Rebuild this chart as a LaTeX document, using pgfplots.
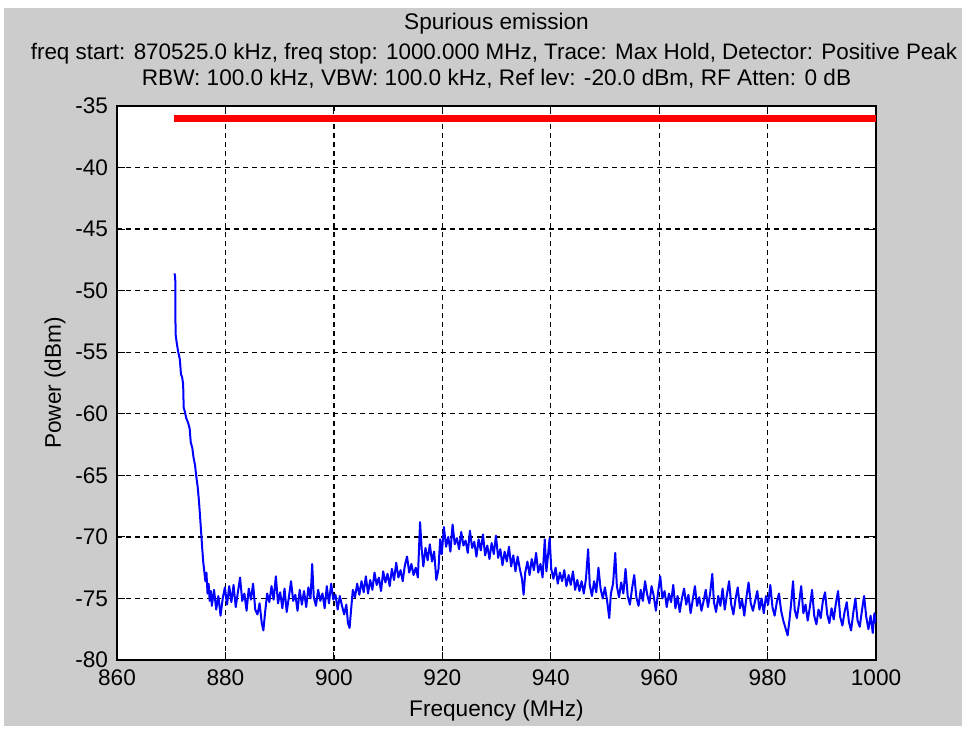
\documentclass[border=0pt]{standalone}
\usepackage{pgfplots}
\pgfplotsset{compat=1.18}
\usepackage{fontspec}
\setmainfont{Liberation Sans}
\usetikzlibrary{backgrounds}
\definecolor{figgray}{gray}{0.8}

\begin{document}
\fontsize{11.3}{13.5}\selectfont
\begin{tikzpicture}
\begin{axis}[
    name=ax,
    at={(0,0)}, anchor=south west,
    scale only axis,
    width=379.5pt, height=277pt,
    xmin=860, xmax=1000,
    ymin=-80, ymax=-35,
    xtick={860,880,...,1000},
    ytick={-80,-75,...,-35},
    tick align=inside,
    major tick length=4pt,
    tick style={black, line width=0.5pt},
    axis line style={black, line width=0.6pt},
    grid=major,
    major grid style={black, line width=0.65pt, dash pattern=on 2.5pt off 2pt},
    axis background/.style={fill=white},
    /pgf/number format/assume math mode=true,
    /pgf/number format/set thousands separator={},
    ticklabel style={font=\fontsize{11.3}{13.5}\selectfont},
    xticklabel style={yshift=-1pt},
    yticklabel style={xshift=-0.5pt},
]
% limit line
\addplot[red, line width=3.5pt, forget plot] coordinates {(870.525,-36) (1000,-36)};
% measured trace (max hold)
\addplot[blue, line width=1pt, line join=round] coordinates {
(870.6,-48.6) (870.7,-48.8) (870.75,-49.2) (870.8,-53.5) (871.0,-54.2) (871.3,-55.0)
(871.6,-55.6) (871.8,-56.8) (872.0,-57.0) (872.2,-57.6) (872.3,-59.5) (872.5,-59.8)
(872.8,-60.4) (873.1,-60.7) (873.4,-61.2) (873.6,-62.3) (873.9,-62.8) (874.1,-63.5)
(874.4,-64.2) (874.6,-65.0) (874.9,-66.0) (875.1,-67.0) (875.3,-68.2) (875.5,-69.5)
(875.7,-70.8) (875.9,-72.0) (876.1,-72.8) (876.3,-73.6) (876.5,-72.9) (876.7,-74.6)
(876.9,-73.8) (877.1,-75.2) (877.3,-74.4)
(877.5,-75.6) (877.9,-74.3) (878.3,-75.9) (878.7,-74.8) (879.1,-76.4) (879.5,-75.0)
(879.9,-74.1) (880.3,-75.5) (880.7,-74.0) (881.1,-75.3) (881.5,-73.9) (881.9,-75.7)
(882.3,-74.5) (882.7,-73.3) (883.1,-75.2) (883.5,-74.6) (883.9,-76.0) (884.3,-74.2)
(884.7,-75.1) (885.1,-73.8) (885.5,-75.9) (885.9,-76.3) (886.3,-75.4) (886.7,-77.0)
(887.0,-77.6) (887.3,-76.2) (887.7,-74.6) (888.1,-75.3) (888.5,-74.0) (888.9,-75.1)
(889.3,-73.2) (889.7,-75.4) (890.1,-74.5) (890.5,-75.8) (890.9,-74.2) (891.3,-76.1)
(891.7,-74.9) (892.1,-73.6) (892.5,-75.2) (892.9,-74.7) (893.3,-76.0) (893.7,-74.3)
(894.1,-75.5) (894.5,-74.4) (894.9,-75.7) (895.3,-74.1) (895.7,-75.0) (896.0,-72.2)
(896.3,-74.9) (896.7,-75.6) (897.1,-74.3) (897.5,-75.2) (897.9,-74.6) (898.3,-75.8)
(898.7,-74.0) (899.1,-75.4) (899.5,-73.8) (899.9,-75.1) (900.3,-74.7) (900.7,-75.9)
(901.1,-74.8) (901.5,-75.6) (901.9,-76.3) (902.3,-75.5) (902.6,-77.0) (902.9,-77.4)
(903.2,-75.8) (903.5,-74.3) (903.9,-74.9) (904.3,-73.8) (904.7,-74.7) (905.1,-73.6)
(905.5,-74.5) (905.9,-73.2) (906.3,-74.6) (906.7,-73.5) (907.1,-74.3) (907.5,-72.9)
(907.9,-73.9) (908.3,-73.3) (908.7,-74.4) (909.1,-72.8) (909.5,-73.7) (909.9,-73.0)
(910.3,-74.0) (910.7,-72.6) (911.1,-73.5) (911.5,-72.1) (911.9,-73.3) (912.3,-72.7)
(912.7,-73.6) (913.1,-72.3) (913.5,-71.6) (913.9,-72.9) (914.3,-72.2) (914.7,-73.1)
(915.1,-72.5) (915.5,-73.3) (915.9,-68.8) (916.2,-71.0) (916.5,-72.4) (916.9,-70.9)
(917.3,-71.9) (917.7,-70.6) (918.1,-72.0) (918.5,-71.2) (918.9,-73.5) (919.3,-72.6)
(919.6,-70.2) (919.9,-71.4) (920.3,-69.2) (920.7,-70.8) (921.1,-70.0) (921.5,-71.2)
(921.9,-69.0) (922.3,-70.6) (922.7,-70.1) (923.1,-71.0) (923.5,-69.6) (923.9,-70.7)
(924.3,-70.3) (924.7,-71.3) (925.1,-69.5) (925.5,-70.9) (925.9,-70.4) (926.3,-71.6)
(926.7,-70.2) (927.1,-71.1) (927.5,-69.8) (927.9,-71.5) (928.3,-70.7) (928.7,-71.8)
(929.1,-70.5) (929.5,-71.4) (929.9,-69.9) (930.3,-71.7) (930.7,-71.0) (931.1,-72.3)
(931.5,-71.2) (931.9,-72.0) (932.3,-70.8) (932.7,-72.4) (933.1,-71.5) (933.5,-72.8)
(933.9,-71.6) (934.3,-72.6) (934.7,-73.4) (935.0,-74.7) (935.3,-72.9) (935.7,-72.0)
(936.1,-73.1) (936.5,-71.8) (936.9,-72.7) (937.3,-71.3) (937.7,-72.9) (938.1,-72.2)
(938.5,-73.3) (938.9,-70.2) (939.2,-72.8) (939.5,-71.5) (939.8,-70.1) (940.1,-72.6)
(940.5,-73.4) (940.9,-72.5) (941.3,-73.8) (941.7,-72.9) (942.1,-73.6) (942.5,-72.7)
(942.9,-74.0) (943.3,-73.1) (943.7,-73.9) (944.1,-72.8) (944.5,-74.3) (944.9,-73.5)
(945.3,-74.4) (945.7,-73.6) (946.1,-74.6) (946.5,-73.4) (946.9,-71.0) (947.2,-73.9)
(947.6,-74.8) (948.0,-73.6) (948.4,-74.5) (948.8,-72.5) (949.2,-74.2) (949.6,-75.0)
(950.0,-74.1) (950.4,-75.2) (950.8,-76.6) (951.1,-74.6) (951.5,-73.8) (951.9,-71.3)
(952.2,-74.0) (952.6,-74.9) (953.0,-73.7) (953.4,-74.6) (953.8,-72.6) (954.2,-74.8)
(954.6,-75.5) (955.0,-74.2) (955.4,-73.1) (955.8,-74.9) (956.2,-75.6) (956.6,-74.3)
(957.0,-75.2) (957.4,-73.6) (957.8,-74.7) (958.2,-75.4) (958.6,-74.0) (959.0,-74.8)
(959.4,-76.0) (959.8,-74.5) (960.2,-73.2) (960.6,-75.0) (961.0,-74.4) (961.4,-75.7)
(961.8,-74.6) (962.2,-75.3) (962.6,-73.9) (963.0,-75.8) (963.4,-74.8) (963.8,-76.1)
(964.2,-75.0) (964.6,-74.2) (965.0,-75.5) (965.4,-74.7) (965.8,-76.2) (966.2,-75.1)
(966.6,-74.0) (967.0,-75.6) (967.4,-74.9) (967.8,-76.0) (968.2,-75.2) (968.6,-74.3)
(969.0,-75.7) (969.4,-74.6) (969.8,-73.0) (970.1,-75.3) (970.5,-76.1) (970.9,-74.8)
(971.3,-75.6) (971.7,-74.2) (972.1,-75.9) (972.5,-74.7) (972.9,-73.6) (973.3,-75.5)
(973.7,-76.3) (974.1,-75.0) (974.5,-74.1) (974.9,-75.8) (975.3,-75.1) (975.7,-76.4)
(976.1,-74.9) (976.5,-73.7) (976.9,-75.4) (977.3,-76.0) (977.7,-75.2) (978.1,-74.4)
(978.5,-75.9) (978.9,-75.0) (979.3,-76.2) (979.7,-74.8) (980.1,-75.5) (980.5,-73.9)
(980.9,-75.7) (981.3,-76.4) (981.7,-75.3) (982.1,-74.6) (982.5,-76.0) (982.9,-76.8)
(983.3,-77.4) (983.7,-78.0) (984.0,-76.9) (984.3,-75.6) (984.7,-73.6) (985.0,-75.9)
(985.4,-76.6) (985.8,-75.4) (986.2,-74.0) (986.6,-76.2) (987.0,-75.5) (987.4,-76.8)
(987.8,-75.7) (988.2,-74.3) (988.6,-76.4) (989.0,-77.1) (989.4,-75.9) (989.8,-76.6)
(990.2,-75.2) (990.6,-74.5) (991.0,-76.3) (991.4,-77.0) (991.8,-75.8) (992.2,-76.7)
(992.6,-75.4) (993.0,-74.4) (993.4,-76.5) (993.8,-77.2) (994.2,-76.1) (994.6,-75.3)
(995.0,-76.9) (995.4,-77.6) (995.8,-76.2) (996.2,-75.0) (996.6,-76.8) (997.0,-77.3)
(997.4,-76.0) (997.8,-74.8) (998.2,-76.5) (998.6,-77.5) (999.0,-76.4) (999.4,-77.8)
(999.7,-76.2) (1000.0,-77.0)
};
\end{axis}
% titles and axis labels
\node[anchor=base] at (189.75pt,315pt) {Spurious emission};
\node[anchor=base, font=\fontsize{11.2}{13.5}\selectfont] at (188.5pt,300pt) {freq start: 870525.0 kHz, freq stop: 1000.000 MHz, Trace: Max Hold, Detector: Positive Peak};
\node[anchor=base] at (189.75pt,287pt) {RBW: 100.0 kHz, VBW: 100.0 kHz, Ref lev: -20.0 dBm, RF Atten: 0 dB};
\node at (189.75pt,-25.5pt) {Frequency (MHz)};
\node[rotate=90] at (-31pt,138.5pt) {Power (dBm)};
% figure background
\begin{scope}[on background layer]
\fill[white] (-58.5pt,-34.5pt) rectangle (425pt,330pt);
\fill[figgray] (-56.5pt,-33pt) rectangle (422.5pt,326pt);
\end{scope}
\pgfresetboundingbox
\useasboundingbox (-58.5pt,-34.5pt) rectangle (425pt,330pt);
\end{tikzpicture}
\end{document}
